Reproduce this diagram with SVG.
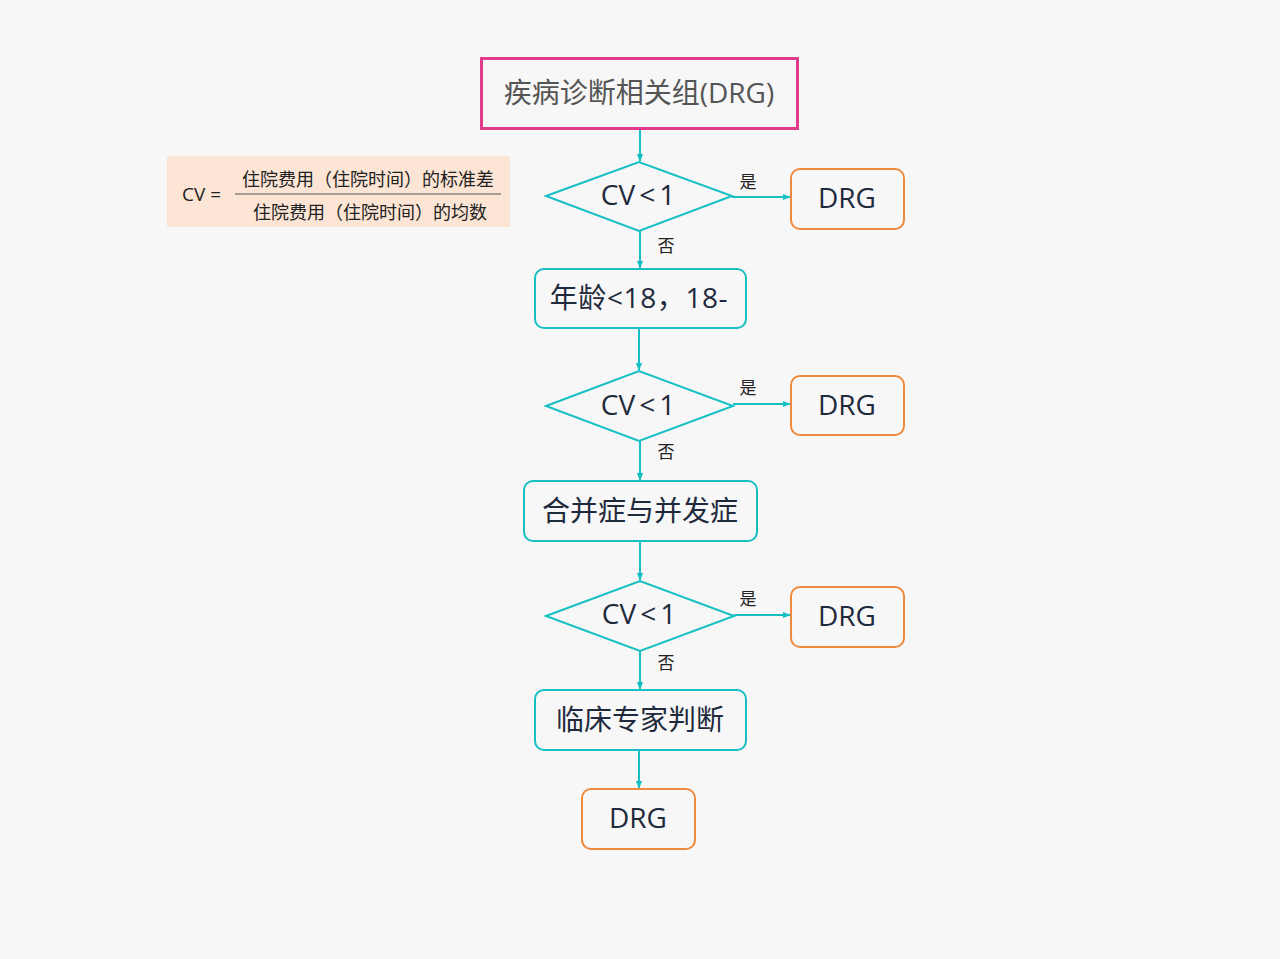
<svg xmlns="http://www.w3.org/2000/svg" width="1280" height="959" viewBox="0 0 1280 959">
<defs>
<style>
.t{font-family:"Open Sans","Noto Sans CJK SC",sans-serif;fill:#1f2a3c;text-anchor:middle;dominant-baseline:central}
.box{fill:#f7f7f7;stroke:#16bfc3;stroke-width:2}
.dia{fill:#f7f7f7;stroke:#16bfc3;stroke-width:2}
.drg{fill:#f7f7f7;stroke:#ef8a3d;stroke-width:2}
.c{stroke:#16bfc3;stroke-width:2;fill:none;marker-end:url(#ah)}
.lb{font-family:"Noto Sans CJK SC",sans-serif;font-size:17px;fill:#222;text-anchor:middle;dominant-baseline:central}
.f{font-family:"Noto Sans CJK SC",sans-serif;font-size:18px;fill:#222;text-anchor:middle;dominant-baseline:central}
</style>
<marker id="ah" viewBox="0 0 10 10" refX="9" refY="5" markerWidth="4" markerHeight="4" orient="auto">
<path d="M0,1 L10,5 L0,9 z" fill="#16bfc3"/>
</marker>
</defs>
<rect width="1280" height="959" fill="#f7f7f7"/>

<g id="formula">
<rect x="167" y="156" width="343" height="71" fill="#fce5d5"/>
<text x="182" y="194" font-family="Open Sans, Noto Sans CJK SC, sans-serif" font-size="19" fill="#222" dominant-baseline="central">CV =</text>
<text class="f" x="368" y="178">住院费用（住院时间）的标准差</text>
<line x1="235" y1="194" x2="501" y2="194" stroke="#555" stroke-width="1"/>
<text class="f" x="370" y="211">住院费用（住院时间）的均数</text>
</g>

<g id="connectors">
<line class="c" x1="640" y1="129" x2="640" y2="161"/>
<line class="c" x1="732" y1="197" x2="790" y2="197"/>
<line class="c" x1="640" y1="231" x2="640" y2="268"/>
<line class="c" x1="639" y1="329" x2="639" y2="370"/>
<line class="c" x1="733" y1="404" x2="790" y2="404"/>
<line class="c" x1="640" y1="441" x2="640" y2="480"/>
<line class="c" x1="640" y1="542" x2="640" y2="580"/>
<line class="c" x1="734" y1="615" x2="790" y2="615"/>
<line class="c" x1="640" y1="651" x2="640" y2="689"/>
<line class="c" x1="639" y1="751" x2="639" y2="788"/>
<text class="lb" x="748" y="180">是</text>
<text class="lb" x="666" y="244">否</text>
<text class="lb" x="748" y="386">是</text>
<text class="lb" x="666" y="450">否</text>
<text class="lb" x="748" y="597">是</text>
<text class="lb" x="666" y="661">否</text>
</g>

<g id="n-top">
<rect x="481.5" y="58.5" width="316" height="70" fill="#f7f7f7" stroke="#e03c8a" stroke-width="3"/>
<text class="t" x="639" y="92" font-size="28" style="fill:#555">疾病诊断相关组(DRG)</text>
</g>

<g id="n-d1">
<polygon class="dia" points="546,196 639,162 732,196 639,231"/>
<text class="t" x="638" y="194" font-size="28">CV<tspan dx="4">&lt;</tspan><tspan dx="4">1</tspan></text>
</g>
<g id="n-drg1">
<rect class="drg" x="791" y="169" width="113" height="60" rx="9"/>
<text class="t" x="847" y="197" font-size="28">DRG</text>
</g>

<g id="n-age">
<rect class="box" x="535" y="269" width="211" height="59" rx="9"/>
<text class="t" x="639" y="297" font-size="28" letter-spacing="0.6">年龄&lt;18，18-</text>
</g>

<g id="n-d2">
<polygon class="dia" points="546,406 639,371 733,406 639,441"/>
<text class="t" x="638" y="404" font-size="28">CV<tspan dx="4">&lt;</tspan><tspan dx="4">1</tspan></text>
</g>
<g id="n-drg2">
<rect class="drg" x="791" y="376" width="113" height="59" rx="9"/>
<text class="t" x="847" y="404" font-size="28">DRG</text>
</g>

<g id="n-comp">
<rect class="box" x="524" y="481" width="233" height="60" rx="9"/>
<text class="t" x="640" y="510" font-size="28">合并症与并发症</text>
</g>

<g id="n-d3">
<polygon class="dia" points="546,616 640,581 734,616 640,651"/>
<text class="t" x="639" y="613" font-size="28">CV<tspan dx="4">&lt;</tspan><tspan dx="4">1</tspan></text>
</g>
<g id="n-drg3">
<rect class="drg" x="791" y="587" width="113" height="60" rx="9"/>
<text class="t" x="847" y="615" font-size="28">DRG</text>
</g>

<g id="n-expert">
<rect class="box" x="535" y="690" width="211" height="60" rx="9"/>
<text class="t" x="640" y="719" font-size="28">临床专家判断</text>
</g>

<g id="n-drg4">
<rect class="drg" x="582" y="789" width="113" height="60" rx="9"/>
<text class="t" x="638" y="817" font-size="28">DRG</text>
</g>
</svg>
